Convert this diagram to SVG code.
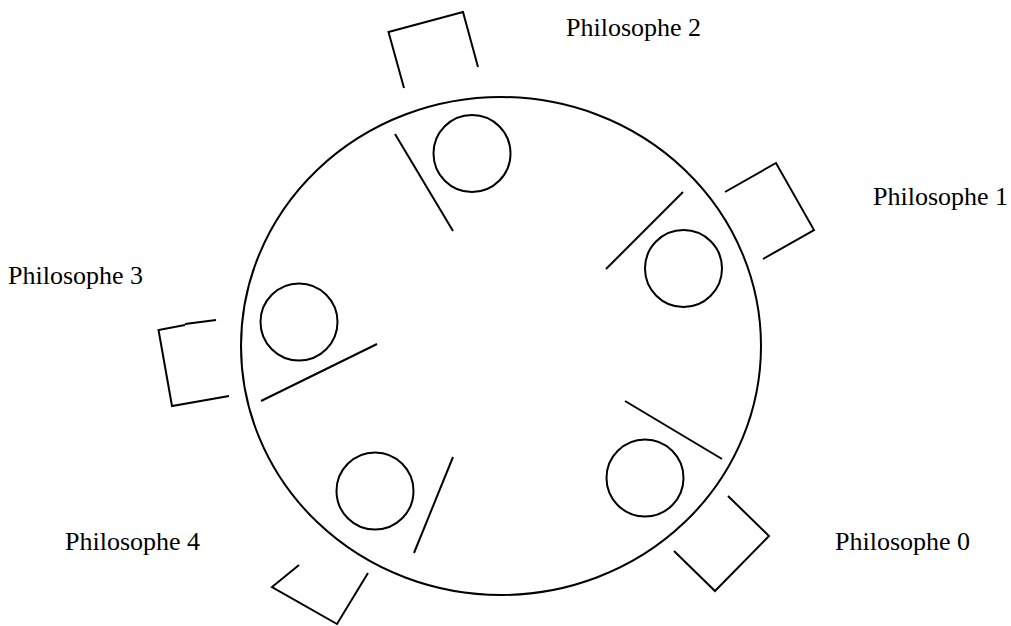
<svg xmlns="http://www.w3.org/2000/svg" width="1011" height="626" viewBox="0 0 1011 626">
<style>
.s{fill:none;stroke:#000;stroke-width:2;stroke-linecap:butt;stroke-linejoin:miter}
.t{font-size:26px;fill:#000}
</style>
<rect width="1011" height="626" fill="#fff"/>
<g id="table"><ellipse class="s" cx="501" cy="346" rx="260" ry="249"/></g>
<g id="philosophe0">
<circle class="s" cx="645" cy="478" r="38.5"/>
<polyline class="s" points="728,496 769,536 715,591 674,551"/>
<text class="t" font-family="'Liberation Serif', Tinos, 'Times New Roman', 'DejaVu Serif', serif" x="835" y="550">Philosophe 0</text>
</g>
<g id="philosophe1">
<circle class="s" cx="683.5" cy="268.5" r="38.5"/>
<polyline class="s" points="725,192 776,163 814,230 763,259"/>
<text class="t" font-family="'Liberation Serif', Tinos, 'Times New Roman', 'DejaVu Serif', serif" x="873" y="205">Philosophe 1</text>
</g>
<g id="philosophe2">
<circle class="s" cx="472" cy="153.5" r="38.5"/>
<polyline class="s" points="404,88 388.5,32 463,12 478,67"/>
<text class="t" font-family="'Liberation Serif', Tinos, 'Times New Roman', 'DejaVu Serif', serif" x="566" y="36">Philosophe 2</text>
</g>
<g id="philosophe3">
<circle class="s" cx="299" cy="322" r="38.5"/>
<polyline class="s" points="185,325 158.5,330 172,406 229,396"/>
<line class="s" x1="185" y1="324" x2="216" y2="320"/>
<text class="t" font-family="'Liberation Serif', Tinos, 'Times New Roman', 'DejaVu Serif', serif" x="8" y="284">Philosophe 3</text>
</g>
<g id="philosophe4">
<circle class="s" cx="375" cy="491" r="38.5"/>
<polyline class="s" points="299,565 272,587 337,624 368,573"/>
<text class="t" font-family="'Liberation Serif', Tinos, 'Times New Roman', 'DejaVu Serif', serif" x="65" y="550">Philosophe 4</text>
</g>
<g id="forks">
<line class="s" x1="395" y1="134" x2="453" y2="231"/>
<line class="s" x1="606" y1="269" x2="683" y2="192"/>
<line class="s" x1="625" y1="401" x2="722" y2="459"/>
<line class="s" x1="261" y1="401" x2="377" y2="344"/>
<line class="s" x1="414" y1="553" x2="453" y2="457"/>
</g>
</svg>
